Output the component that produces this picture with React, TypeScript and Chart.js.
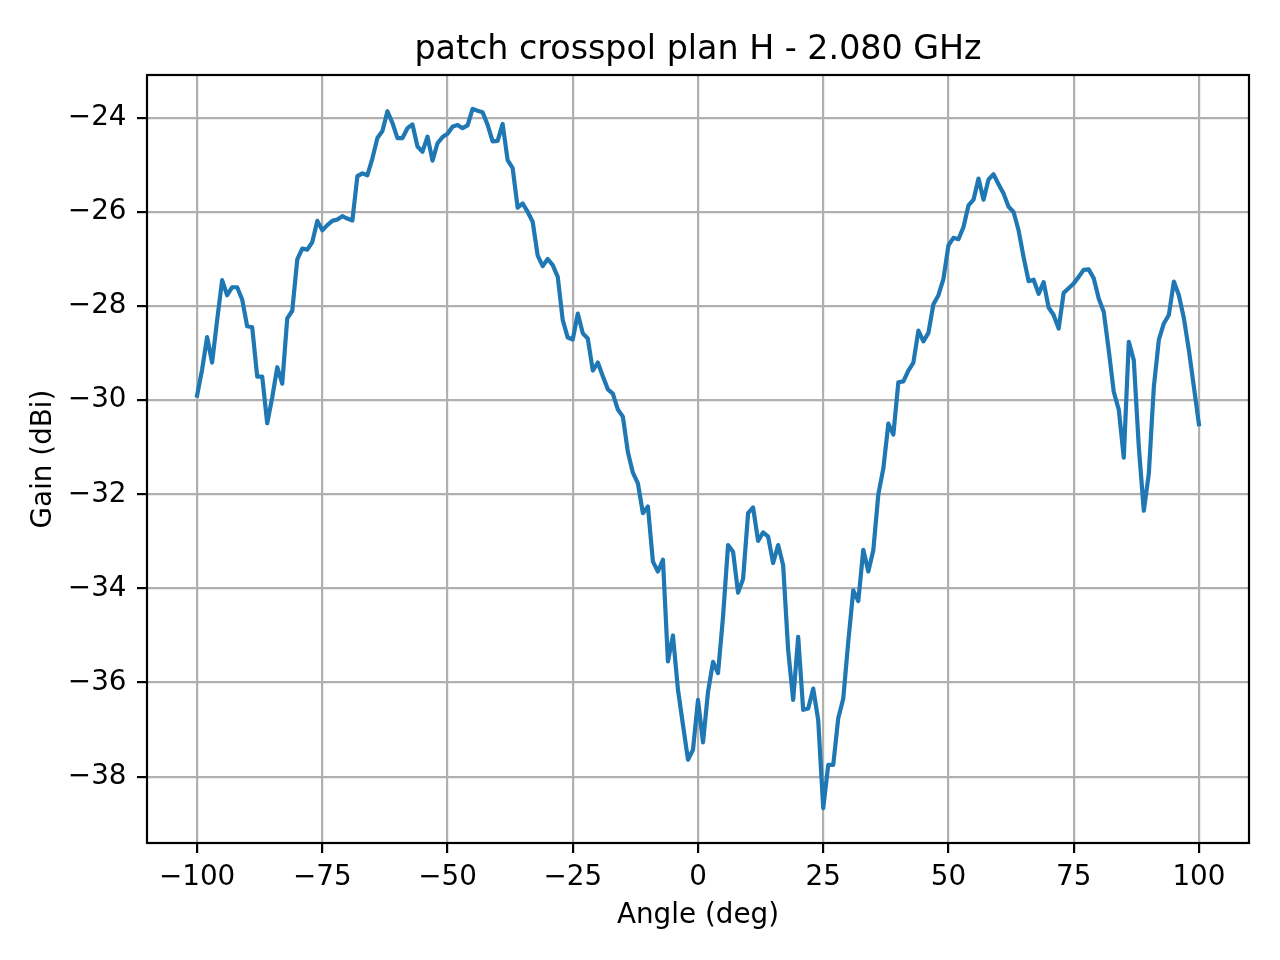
import { useEffect, useRef } from "react";
import { Chart, registerables } from "chart.js";

Chart.register(...registerables);

const TITLE = "patch crosspol plan H - 2.080 GHz";
const X_LABEL = "Angle (deg)";
const Y_LABEL = "Gain (dBi)";

const angles = [
  -100, -99, -98, -97, -96, -95, -94, -93, -92, -91, -90, -89, -88, -87, -86, -85, -84, -83, -82, -81,
  -80, -79, -78, -77, -76, -75, -74, -73, -72, -71, -70, -69, -68, -67, -66, -65, -64, -63, -62, -61,
  -60, -59, -58, -57, -56, -55, -54, -53, -52, -51, -50, -49, -48, -47, -46, -45, -44, -43, -42, -41,
  -40, -39, -38, -37, -36, -35, -34, -33, -32, -31, -30, -29, -28, -27, -26, -25, -24, -23, -22, -21,
  -20, -19, -18, -17, -16, -15, -14, -13, -12, -11, -10, -9, -8, -7, -6, -5, -4, -3, -2, -1,
  0, 1, 2, 3, 4, 5, 6, 7, 8, 9, 10, 11, 12, 13, 14, 15, 16, 17, 18, 19,
  20, 21, 22, 23, 24, 25, 26, 27, 28, 29, 30, 31, 32, 33, 34, 35, 36, 37, 38, 39,
  40, 41, 42, 43, 44, 45, 46, 47, 48, 49, 50, 51, 52, 53, 54, 55, 56, 57, 58, 59,
  60, 61, 62, 63, 64, 65, 66, 67, 68, 69, 70, 71, 72, 73, 74, 75, 76, 77, 78, 79,
  80, 81, 82, 83, 84, 85, 86, 87, 88, 89, 90, 91, 92, 93, 94, 95, 96, 97, 98, 99,
  100,
];

// gain in dBi, one value per angle above
const gain = [
  -29.9, -29.35, -28.66, -29.2, -28.3, -27.45, -27.77, -27.6, -27.6, -27.86,
  -28.43, -28.45, -29.5, -29.5, -30.49, -29.94, -29.3, -29.65, -28.26, -28.1,
  -27.01, -26.78, -26.8, -26.64, -26.19, -26.39, -26.28, -26.19, -26.16, -26.09,
  -26.14, -26.18, -25.24, -25.18, -25.22, -24.86, -24.43, -24.28, -23.86, -24.11,
  -24.43, -24.43, -24.22, -24.14, -24.61, -24.72, -24.4, -24.91, -24.54, -24.41,
  -24.34, -24.19, -24.15, -24.22, -24.16, -23.81, -23.85, -23.88, -24.15, -24.5,
  -24.49, -24.13, -24.9, -25.07, -25.91, -25.82, -26.0, -26.21, -26.93, -27.15,
  -27.0, -27.13, -27.38, -28.3, -28.67, -28.71, -28.16, -28.58, -28.69, -29.37,
  -29.2, -29.49, -29.77, -29.86, -30.2, -30.35, -31.1, -31.54, -31.77, -32.4,
  -32.26, -33.43, -33.64, -33.39, -35.55, -35.0, -36.15, -36.9, -37.64, -37.43,
  -36.37, -37.27, -36.2, -35.56, -35.8, -34.6, -33.08, -33.22, -34.09, -33.8,
  -32.4, -32.28, -32.99, -32.81, -32.9, -33.46, -33.08, -33.51, -35.31, -36.37,
  -35.03, -36.58, -36.55, -36.13, -36.8, -38.67, -37.75, -37.75, -36.76, -36.34,
  -35.13, -34.04, -34.27, -33.18, -33.64, -33.19, -32.0, -31.45, -30.5, -30.73,
  -29.62, -29.6, -29.37, -29.2, -28.52, -28.75, -28.57, -27.96, -27.77, -27.42,
  -26.71, -26.55, -26.58, -26.32, -25.86, -25.74, -25.29, -25.74, -25.31, -25.2,
  -25.41, -25.61, -25.89, -26.0, -26.39, -26.96, -27.47, -27.44, -27.74, -27.49,
  -28.03, -28.19, -28.48, -27.72, -27.62, -27.52, -27.38, -27.23, -27.22, -27.41,
  -27.84, -28.12, -28.94, -29.82, -30.2, -31.22, -28.76, -29.15, -30.99, -32.35,
  -31.56, -29.72, -28.72, -28.37, -28.19, -27.48, -27.77, -28.26, -28.94, -29.72,
  -30.51,
];

const xTicks = [-100, -75, -50, -25, 0, 25, 50, 75, 100];
const yTicks = [-38, -36, -34, -32, -30, -28, -26, -24];

const FONT = "DejaVu Sans";
const minus = (v: number) => String(v).replace("-", "\u2212");

// axes box + title, like matplotlib
const framePlugin = {
  id: "frame",
  afterDraw(chart: any) {
    const { ctx, chartArea } = chart;
    ctx.save();
    ctx.strokeStyle = "#000";
    ctx.lineWidth = 2.2;
    ctx.strokeRect(
      chartArea.left,
      chartArea.top,
      chartArea.right - chartArea.left,
      chartArea.bottom - chartArea.top
    );
    ctx.fillStyle = "#000";
    ctx.font = `33.3px "${FONT}"`;
    ctx.textAlign = "center";
    ctx.textBaseline = "alphabetic";
    ctx.fillText(TITLE, (chartArea.left + chartArea.right) / 2, chartArea.top - 16.5);
    ctx.restore();
  },
};

export default function App() {
  const canvasRef = useRef<HTMLCanvasElement>(null);
  const chartRef = useRef<Chart | null>(null);

  useEffect(() => {
    document.body.style.margin = "0";
    if (!canvasRef.current) return;

    const config: any = {
      type: "line",
      data: {
        datasets: [
          {
            data: angles.map((a, i) => ({ x: a, y: gain[i] })),
            borderColor: "#1f77b4",
            borderWidth: 4.2,
            pointRadius: 0,
            tension: 0,
            fill: false,
            borderJoinStyle: "round",
            borderCapStyle: "square",
          },
        ],
      },
      options: {
        animation: false,
        responsive: false,
        devicePixelRatio: 1,
        layout: { padding: { top: 75, right: 31, left: 0, bottom: 0 } },
        plugins: {
          legend: { display: false },
          title: { display: false },
          tooltip: { enabled: false },
        },
        scales: {
          x: {
            type: "linear",
            min: -110,
            max: 110,
            afterBuildTicks: (axis: any) => {
              axis.ticks = xTicks.map((v) => ({ value: v }));
            },
            afterFit: (axis: any) => {
              axis.height = 117;
            },
            border: { display: false },
            grid: {
              color: "#b0b0b0",
              lineWidth: 2.2,
              tickColor: "#000",
              tickWidth: 2.2,
              tickLength: 10,
            },
            ticks: {
              color: "#000",
              padding: 8.2,
              maxRotation: 0,
              autoSkip: false,
              font: { family: FONT, size: 27.8 },
              callback: (v: number) => minus(v),
            },
            title: {
              display: true,
              text: X_LABEL,
              color: "#000",
              font: { family: FONT, size: 27.8 },
              padding: { top: 0, bottom: 27.6 },
            },
          },
          y: {
            type: "linear",
            min: -39.41,
            max: -23.09,
            afterBuildTicks: (axis: any) => {
              axis.ticks = yTicks.map((v) => ({ value: v }));
            },
            afterFit: (axis: any) => {
              axis.width = 147;
            },
            border: { display: false },
            grid: {
              color: "#b0b0b0",
              lineWidth: 2.2,
              tickColor: "#000",
              tickWidth: 2.2,
              tickLength: 10,
            },
            ticks: {
              color: "#000",
              padding: 10.5,
              autoSkip: false,
              font: { family: FONT, size: 27.8 },
              callback: (v: number) => minus(v),
            },
            title: {
              display: true,
              text: Y_LABEL,
              color: "#000",
              font: { family: FONT, size: 27.8 },
              padding: { top: 26.6, bottom: 0 },
            },
          },
        },
      },
      plugins: [framePlugin],
    };

    chartRef.current = new Chart(canvasRef.current, config);

    return () => {
      if (chartRef.current) {
        chartRef.current.destroy();
        chartRef.current = null;
      }
    };
  }, []);

  return (
    <div style={{ width: 1280, height: 960, background: "#fff" }}>
      <canvas ref={canvasRef} width={1280} height={960} style={{ width: 1280, height: 960 }} />
    </div>
  );
}
